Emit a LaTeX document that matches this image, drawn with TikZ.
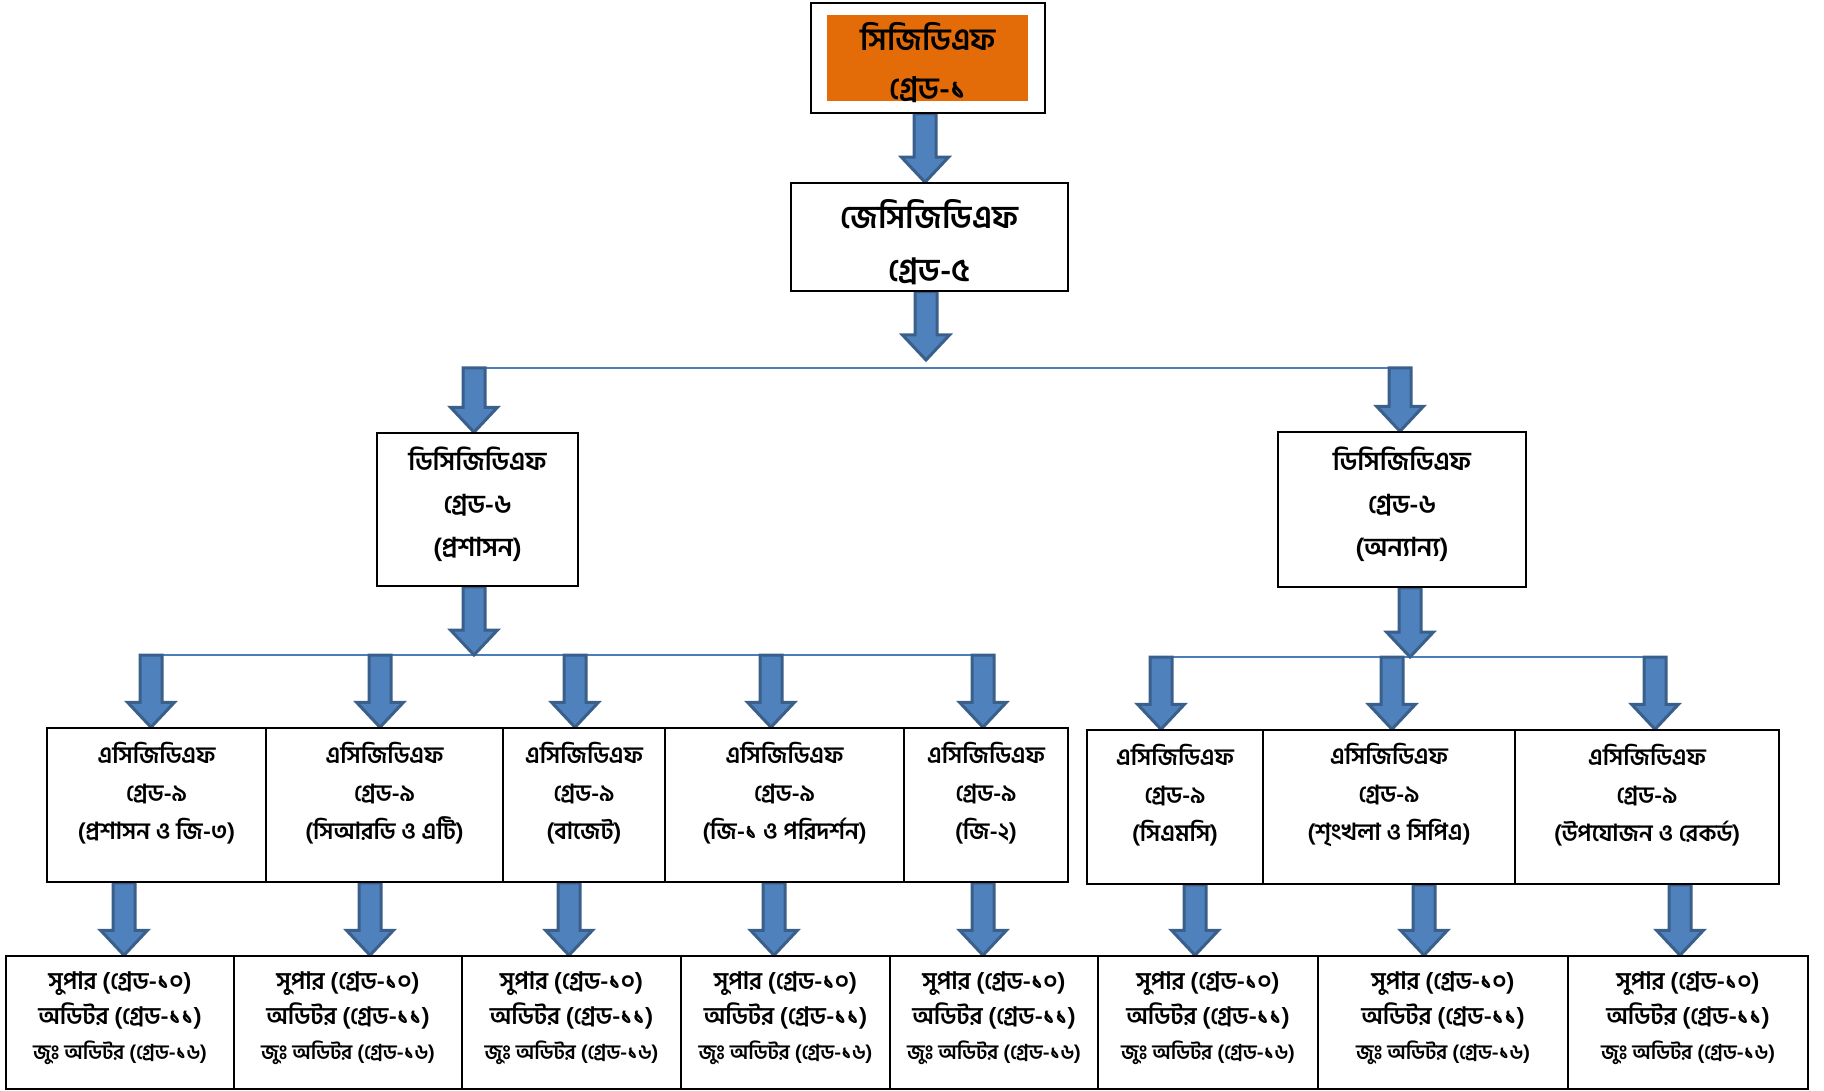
\documentclass[tikz,border=0pt]{standalone}
\usepackage{fontspec}
\newfontfamily\bn[Script=Bengali]{Hind Siliguri}
\usetikzlibrary{calc}
\definecolor{arrowfill}{HTML}{4F81BD}
\definecolor{arrowline}{HTML}{3A5F8B}
\definecolor{hline}{HTML}{4A7EBB}
\definecolor{topfill}{HTML}{E36C09}
\newcommand\setfs[2]{\fontsize{#1}{#2}\selectfont}
\pgfdeclarelayer{bg}
\pgfsetlayers{bg,main}
\newcommand\barrow[2]{\draw[barrowsty] let \p1=#1, \p2=#2 in
  (\x1-11pt,\y1) -- (\x1-11pt,\y2+25pt) -- (\x1-23.5pt,\y2+25pt) -- (\x1,\y2)
  -- (\x1+23.5pt,\y2+25pt) -- (\x1+11pt,\y2+25pt) -- (\x1+11pt,\y1) -- cycle;}
\begin{document}
\begin{tikzpicture}[x=1pt,y=-1pt,
  box/.style={draw=black, line width=1.5pt, inner sep=0pt, fill=white},
  tA/.style={align=center, inner sep=0pt, font=\bn\bfseries\setfs{31}{49}},
  tB/.style={align=center, inner sep=0pt, font=\bn\bfseries\setfs{32}{53}},
  tC/.style={align=center, inner sep=0pt, font=\bn\bfseries\setfs{26}{43}},
  tD/.style={align=center, inner sep=0pt, font=\bn\bfseries\setfs{23.5}{38}},
  tE/.style={align=center, inner sep=0pt, font=\bn\bfseries\setfs{24}{35}},
  barrowsty/.style={fill=arrowfill, draw=arrowline, line width=3pt, line join=miter},
  hl/.style={draw=hline, line width=2pt}]
\useasboundingbox (0,0) rectangle (1824,1091);
% level 1
\node[box, minimum width=234pt, minimum height=110pt] (top) at (928,58) {};
\node[fill=topfill, inner sep=0pt, minimum width=201pt, minimum height=86pt] (topor) at (927.5,58) {};
\node[tA] (ttop) at ([yshift=-5pt]top.center) {সিজিডিএফ\\গ্রেড-১};
% level 1b
\node[box, minimum width=277pt, minimum height=108pt] (jc) at (929.5,237) {};
\node[tB] (tjc) at ([yshift=-5pt]jc.center) {জেসিজিডিএফ\\গ্রেড-৫};
% level 2
\node[box, minimum width=201pt, minimum height=153pt] (l2l) at (477.5,509.5) {};
\node[tC] (tl2l) at ([yshift=5pt]l2l.center) {ডিসিজিডিএফ\\গ্রেড-৬\\(প্রশাসন)};
\node[box, minimum width=248pt, minimum height=155pt] (l2r) at (1402,509.5) {};
\node[tC] (tl2r) at ([yshift=5pt]l2r.center) {ডিসিজিডিএফ\\গ্রেড-৬\\(অন্যান্য)};
% level 3
\node[box, minimum width=219pt, minimum height=154pt] (l3a) at (156.5,805) {};
\node[box, minimum width=237pt, minimum height=154pt] (l3b) at (384.5,805) {};
\node[box, minimum width=162pt, minimum height=154pt] (l3c) at (584,805) {};
\node[box, minimum width=239pt, minimum height=154pt] (l3d) at (784.5,805) {};
\node[box, minimum width=164pt, minimum height=154pt] (l3e) at (986,805) {};
\node[box, minimum width=176pt, minimum height=154pt] (l3f) at (1175,807) {};
\node[box, minimum width=252pt, minimum height=154pt] (l3g) at (1389,807) {};
\node[box, minimum width=264pt, minimum height=154pt] (l3h) at (1647,807) {};
\node[tD] (tl3a) at ([yshift=12pt]l3a.center) {এসিজিডিএফ\\গ্রেড-৯\\(প্রশাসন ও জি-৩)};
\node[tD] (tl3b) at ([yshift=12pt]l3b.center) {এসিজিডিএফ\\গ্রেড-৯\\(সিআরডি ও এটি)};
\node[tD] (tl3c) at ([yshift=12pt]l3c.center) {এসিজিডিএফ\\গ্রেড-৯\\(বাজেট)};
\node[tD] (tl3d) at ([yshift=12pt]l3d.center) {এসিজিডিএফ\\গ্রেড-৯\\(জি-১ ও পরিদর্শন)};
\node[tD] (tl3e) at ([yshift=12pt]l3e.center) {এসিজিডিএফ\\গ্রেড-৯\\(জি-২)};
\node[tD] (tl3f) at ([yshift=12pt]l3f.center) {এসিজিডিএফ\\গ্রেড-৯\\(সিএমসি)};
\node[tD] (tl3g) at ([yshift=12pt]l3g.center) {এসিজিডিএফ\\গ্রেড-৯\\(শৃংখলা ও সিপিএ)};
\node[tD] (tl3h) at ([yshift=12pt]l3h.center) {এসিজিডিএফ\\গ্রেড-৯\\(উপযোজন ও রেকর্ড)};
% level 4
\node[box, minimum width=228pt, minimum height=133pt] (l4a) at (120,1022.5) {};
\node[box, minimum width=228pt, minimum height=133pt] (l4b) at (348,1022.5) {};
\node[box, minimum width=219pt, minimum height=133pt] (l4c) at (571.5,1022.5) {};
\node[box, minimum width=209pt, minimum height=133pt] (l4d) at (785.5,1022.5) {};
\node[box, minimum width=208pt, minimum height=133pt] (l4e) at (994,1022.5) {};
\node[box, minimum width=220pt, minimum height=133pt] (l4f) at (1208,1022.5) {};
\node[box, minimum width=250pt, minimum height=133pt] (l4g) at (1443,1022.5) {};
\node[box, minimum width=240pt, minimum height=133pt] (l4h) at (1688,1022.5) {};
\foreach \n in {a,b,c,d,e,f,g,h}{
  \node[tE] (tl4\n) at ([yshift=4pt]l4\n.center) {সুপার (গ্রেড-১০)\\অডিটর (গ্রেড-১১)\\{\setfs{20.5}{35}জুঃ অডিটর (গ্রেড-১৬)}};
}
% connectors
\coordinate (hub) at (926,360);
\coordinate (h1l) at (474,368);
\coordinate (h1r) at (1400,368);
\coordinate (h2l) at (474,655);
\coordinate (q1) at (151,655);
\coordinate (q2) at (380,655);
\coordinate (q3) at (575,655);
\coordinate (q4) at (771,655);
\coordinate (q5) at (983,655);
\coordinate (h2r) at (1410,657);
\coordinate (r1) at (1161,657);
\coordinate (r2) at (1392,657);
\coordinate (r3) at (1655,657);
\begin{pgfonlayer}{bg}
\draw[hl] (h1l) -- (h1r);
\draw[hl] (q1) -- (q5);
\draw[hl] (r1) -- (r3);
\barrow{([xshift=-3pt]top.south)}{(jc.north)}
\barrow{([xshift=-3.5pt]jc.south)}{(hub)}
\barrow{(h1l)}{(l2l.north)}
\barrow{(h1r)}{(l2r.north)}
\barrow{([xshift=-3.5pt]l2l.south)}{(h2l)}
\barrow{([xshift=8pt]l2r.south)}{(h2r)}
\barrow{(q1)}{(l3a.north)}
\barrow{(q2)}{(l3b.north)}
\barrow{(q3)}{(l3c.north)}
\barrow{(q4)}{(l3d.north)}
\barrow{(q5)}{(l3e.north)}
\barrow{(r1)}{(l3f.north)}
\barrow{(r2)}{(l3g.north)}
\barrow{(r3)}{(l3h.north)}
\barrow{([xshift=-32.5pt]l3a.south)}{(l4a.north)}
\barrow{([xshift=-14.5pt]l3b.south)}{(l4b.north)}
\barrow{([xshift=-15pt]l3c.south)}{(l4c.north)}
\barrow{([xshift=-10.5pt]l3d.south)}{(l4d.north)}
\barrow{([xshift=-3pt]l3e.south)}{(l4e.north)}
\barrow{([xshift=20pt]l3f.south)}{(l4f.north)}
\barrow{([xshift=35pt]l3g.south)}{(l4g.north)}
\barrow{([xshift=33pt]l3h.south)}{(l4h.north)}
\end{pgfonlayer}
\end{tikzpicture}
\end{document}
